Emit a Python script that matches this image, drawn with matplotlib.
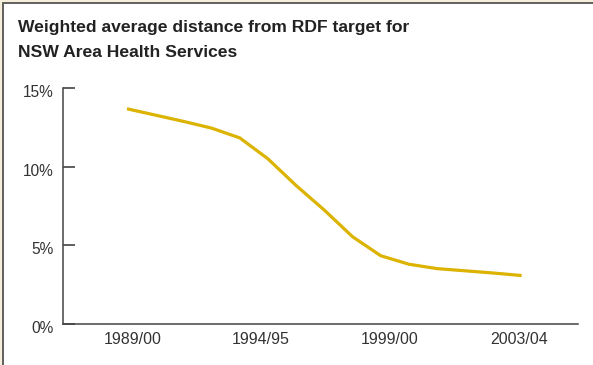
import matplotlib.pyplot as plt
import matplotlib.transforms as mtransforms
from matplotlib.patches import Rectangle

# yearly values, 1989/90 .. 2003/04 (percent distance from RDF target)
years = list(range(15))
distance = [13.68, 13.28, 12.88, 12.45, 11.83, 10.5, 8.8, 7.24,
            5.55, 4.34, 3.8, 3.52, 3.38, 3.24, 3.08]

tick_pos = [0.2, 4.75, 9.33, 13.9]
tick_labels = ["1989/00", "1994/95", "1999/00", "2003/04"]
y_ticks = [0, 5, 10, 15]

plt.rcParams['font.family'] = ['Liberation Sans', 'DejaVu Sans']

W, H = 593, 365
fig = plt.figure(figsize=(W / 100, H / 100), dpi=100)
fig.patch.set_facecolor('#F6EEDB')

# white panel with grey frame (only top/left edges visible)
bg = fig.add_axes([0, 0, 1, 1], zorder=-1)
bg.set_xlim(0, W)
bg.set_ylim(H, 0)
bg.axis('off')
bg.add_patch(Rectangle((3, 3), W + 10, H + 10, facecolor='white',
                       edgecolor='#555555', linewidth=1.3))

ax = fig.add_axes([63 / W, (H - 324) / H, (578 - 63) / W, (324 - 88) / H])
ax.set_facecolor('none')
ax.plot(years, distance, color='#DBB300', linewidth=2.3, solid_capstyle='butt',
        solid_joinstyle='round')

ax.set_xlim(-2.27, 16.0)
ax.set_ylim(0, 15)
ax.set_yticks(y_ticks)
ax.set_yticklabels([f"{v}%" for v in y_ticks])
ax.set_xticks(tick_pos)
ax.set_xticklabels(tick_labels)

for s in ['top', 'right']:
    ax.spines[s].set_visible(False)
for s in ['left', 'bottom']:
    ax.spines[s].set_color('#444444')
    ax.spines[s].set_linewidth(1.1)

ax.tick_params(axis='y', direction='in', length=8.5, width=1.1, color='#333333',
               labelsize=11.2, labelcolor='#333333', pad=7)
ax.tick_params(axis='x', length=0, labelsize=11.5, labelcolor='#333333', pad=6)

# y labels sit a little below their ticks in the original
shift = mtransforms.ScaledTranslation(0, -3 / 100, fig.dpi_scale_trans)
for lab in ax.get_yticklabels():
    lab.set_transform(lab.get_transform() + shift)

fig.text(18 / W, 1 - 20 / H, "Weighted average distance from RDF target for\nNSW Area Health Services",
         fontsize=12.6, fontweight='bold', color='#222222', va='top', ha='left',
         linespacing=1.8)

fig.savefig('out.png', dpi=100, facecolor=fig.get_facecolor())
